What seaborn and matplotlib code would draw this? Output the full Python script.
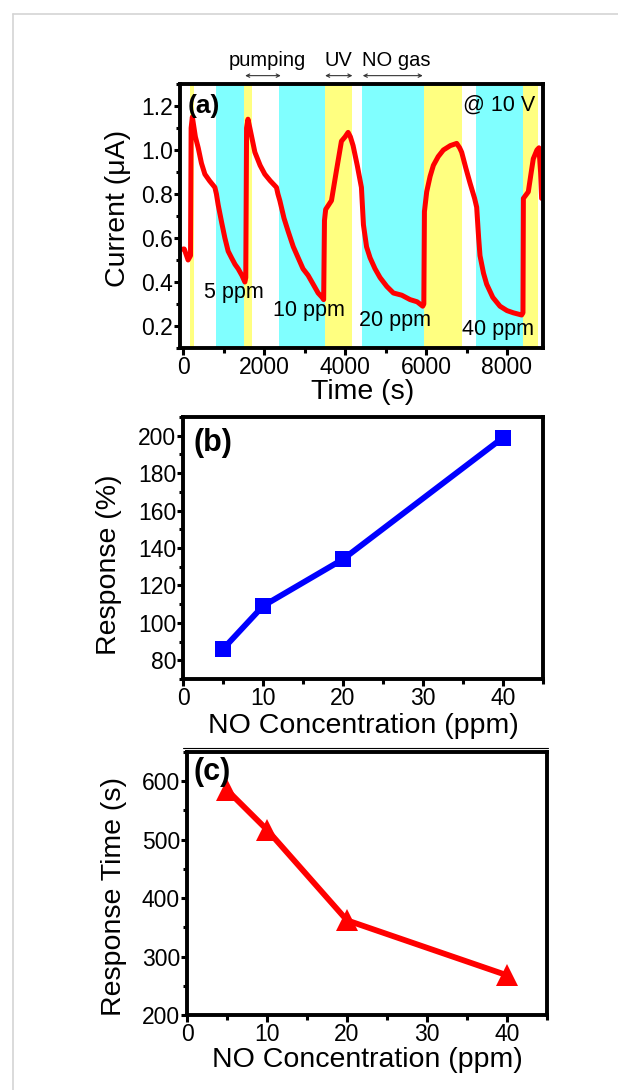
import matplotlib
matplotlib.use("Agg")
import matplotlib.pyplot as plt
from matplotlib.lines import Line2D
from matplotlib.ticker import MultipleLocator
import numpy as np
import pandas as pd
import seaborn as sns

########################
## Data
########################

# (a) current trace
time_s = [0, 25, 120, 180, 195, 225, 300, 370, 450, 535, 650, 782, 820, 864,
          950, 1029, 1110, 1193, 1280, 1358, 1450, 1523, 1545, 1565, 1600, 1646,
          1770, 1900, 2016, 2150, 2304, 2340, 2387, 2490, 2593, 2720, 2840, 2960,
          3086, 3210, 3333, 3432, 3470, 3490, 3520, 3663, 3780, 3909, 4000, 4074,
          4130, 4197, 4300, 4403, 4453, 4530, 4617, 4740, 4864, 5030, 5193, 5400,
          5605, 5780, 5918, 5945, 5960, 6016, 6100, 6181, 6300, 6428, 6600, 6757,
          6830, 6880, 6980, 7086, 7200, 7251, 7300, 7333, 7420, 7498, 7650, 7827,
          8000, 8156, 8362, 8395, 8405, 8527, 8600, 8650, 8740, 8790, 8830, 8856]
current_uA = [0.55, 0.55, 0.50, 0.52, 1.10, 1.15, 1.06, 1.01, 0.94, 0.89, 0.86, 0.83, 0.80, 0.75,
              0.67, 0.60, 0.54, 0.51, 0.48, 0.46, 0.43, 0.40, 0.42, 1.10, 1.14, 1.10,
              0.99, 0.93, 0.89, 0.86, 0.83, 0.80, 0.77, 0.69, 0.63, 0.56, 0.51, 0.46,
              0.43, 0.39, 0.35, 0.33, 0.32, 0.68, 0.73, 0.77, 0.90, 1.04, 1.06, 1.08,
              1.06, 1.02, 0.93, 0.83, 0.66, 0.56, 0.51, 0.46, 0.42, 0.38, 0.35, 0.34,
              0.32, 0.31, 0.29, 0.30, 0.72, 0.81, 0.88, 0.93, 0.97, 1.00, 1.02, 1.03,
              1.01, 0.99, 0.92, 0.85, 0.78, 0.74, 0.60, 0.52, 0.44, 0.39, 0.33, 0.29,
              0.27, 0.26, 0.25, 0.26, 0.78, 0.81, 0.90, 0.96, 1.00, 1.01, 0.90, 0.78]

# shaded phases: UV (yellow) and NO gas (cyan)
band_start = [173, 815, 1506, 2370, 3510, 4420, 5950, 7230, 8400]
band_end = [272, 1506, 1700, 3510, 4170, 5950, 6890, 8400, 8770]
band_kind = ["UV", "NO", "UV", "NO", "UV", "NO", "UV", "NO", "UV"]

conc_labels = ["5 ppm", "10 ppm", "20 ppm", "40 ppm"]
conc_label_t = [1242, 3095, 5235, 7785]
conc_label_i = [0.354, 0.27, 0.224, 0.186]

# (b) and (c)
no_ppm = [5, 10, 20, 40]
response_pct = [86, 109, 134, 199]
response_time_s = [585, 517, 362, 268]

########################
## Style
########################
sns.set_theme(style="ticks")
plt.rcParams["font.family"] = ["Liberation Sans", "DejaVu Sans"]
plt.rcParams["text.color"] = "black"
plt.rcParams["axes.labelcolor"] = "black"
plt.rcParams["axes.linewidth"] = 2.8
for k in ["xtick.major.width", "ytick.major.width", "xtick.minor.width", "ytick.minor.width"]:
    plt.rcParams[k] = 2.2
plt.rcParams["xtick.major.size"] = 5
plt.rcParams["ytick.major.size"] = 4
plt.rcParams["xtick.minor.size"] = 3.5
plt.rcParams["ytick.minor.size"] = 3
plt.rcParams["xtick.major.pad"] = 1
plt.rcParams["ytick.major.pad"] = 1
plt.rcParams["xtick.color"] = "black"
plt.rcParams["ytick.color"] = "black"
plt.rcParams["xtick.labelcolor"] = "black"
plt.rcParams["ytick.labelcolor"] = "black"
plt.rcParams["axes.edgecolor"] = "black"

band_colors = {"UV": "#ffff80", "NO": "#80ffff"}
tick_fs = 16.5
label_fs = 20.5

fig = plt.figure(figsize=(6.18, 10.9), dpi=100)

# light grey frame of the page
fig.add_artist(Line2D([13 / 618, 13 / 618], [0, 1 - 14 / 1090], color="#d4d4d4", lw=1.2))
fig.add_artist(Line2D([13 / 618, 1], [1 - 14 / 1090, 1 - 14 / 1090], color="#d4d4d4", lw=1.2))
# thin separator above panel (c)
fig.add_artist(Line2D([183 / 618, 548 / 618], [1 - 748 / 1090, 1 - 748 / 1090], color="black", lw=0.8))

# ----------------------
# (a) transient current
# ----------------------
ax1 = fig.add_axes([180 / 618, 1 - 348 / 1090, 363 / 618, 264 / 1090])
for s, e, k in zip(band_start, band_end, band_kind):
    ax1.axvspan(s, e, color=band_colors[k], lw=0, zorder=0)

df_a = pd.DataFrame({"t": time_s, "i": current_uA})
sns.lineplot(data=df_a, x="t", y="i", color="red", lw=3.6, ax=ax1, sort=False)

ax1.set_xlim(-80, 8890)
ax1.set_ylim(0.1, 1.3)
ax1.xaxis.set_major_locator(MultipleLocator(2000))
ax1.xaxis.set_minor_locator(MultipleLocator(1000))
ax1.yaxis.set_major_locator(MultipleLocator(0.2))
ax1.yaxis.set_minor_locator(MultipleLocator(0.1))
ax1.set_yticks([0.2, 0.4, 0.6, 0.8, 1.0, 1.2])
ax1.set_yticklabels(["0.2", "0.4", "0.6", "0.8", "1.0", "1.2"])
ax1.tick_params(labelsize=tick_fs, direction="out")
ax1.set_xlabel("Time (s)", fontsize=label_fs)
ax1.set_ylabel("Current (\u03bcA)", fontsize=label_fs)
ax1.xaxis.set_label_coords(0.504, -0.118)
ax1.yaxis.set_label_coords(-0.135, 0.53)

ax1.text(100, 1.2, "(a)", fontsize=19, fontweight="bold", ha="left", va="center")
ax1.text(8700, 1.205, "@ 10 V", fontsize=15.5, ha="right", va="center")
for lab, t, i in zip(conc_labels, conc_label_t, conc_label_i):
    ax1.text(t, i, lab, fontsize=15.5, ha="center", va="center")

# phase annotations above the frame
phase_text = ["pumping", "UV", "NO gas"]
phase_x = [2066, 3830, 5276]
phase_from = [1530, 3506, 4436]
phase_to = [2410, 4180, 5918]
for lab, x, a, b in zip(phase_text, phase_x, phase_from, phase_to):
    ax1.text(x, 1.405, lab, fontsize=14.5, ha="center", va="center", clip_on=False)
    ax1.annotate("", xy=(a, 1.338), xytext=(b, 1.338), annotation_clip=False,
                 arrowprops=dict(arrowstyle="<->", lw=0.8, color="#333333",
                                 shrinkA=0, shrinkB=0, mutation_scale=6))

# ----------------------
# (b) response vs concentration
# ----------------------
ax2 = fig.add_axes([183 / 618, 1 - 679 / 1090, 360 / 618, 262 / 1090])
df_b = pd.DataFrame({"ppm": no_ppm, "resp": response_pct})
sns.lineplot(data=df_b, x="ppm", y="resp", color="#0000ff", lw=4.2, marker="s",
             markersize=11.5, markeredgewidth=0, ax=ax2)
ax2.set_xlim(0, 45)
ax2.set_ylim(70, 210)
ax2.xaxis.set_major_locator(MultipleLocator(10))
ax2.xaxis.set_minor_locator(MultipleLocator(5))
ax2.yaxis.set_major_locator(MultipleLocator(20))
ax2.yaxis.set_minor_locator(MultipleLocator(10))
ax2.set_yticks([80, 100, 120, 140, 160, 180, 200])
ax2.tick_params(labelsize=tick_fs, direction="out")
ax2.set_xlabel("NO Concentration (ppm)", fontsize=label_fs)
ax2.set_ylabel("Response (%)", fontsize=label_fs)
ax2.xaxis.set_label_coords(0.5, -0.13)
ax2.yaxis.set_label_coords(-0.17, 0.435)
ax2.text(0.03, 0.9, "(b)", transform=ax2.transAxes, fontsize=22,
         fontweight="bold", ha="left", va="center")

# ----------------------
# (c) response time vs concentration
# ----------------------
ax3 = fig.add_axes([187 / 618, 1 - 1015 / 1090, 360 / 618, 263 / 1090])
df_c = pd.DataFrame({"ppm": no_ppm, "rt": response_time_s})
sns.lineplot(data=df_c, x="ppm", y="rt", color="red", lw=4.2, marker="^",
             markersize=16, markeredgewidth=0, ax=ax3)
ax3.set_xlim(0, 45)
ax3.set_ylim(200, 650)
ax3.xaxis.set_major_locator(MultipleLocator(10))
ax3.xaxis.set_minor_locator(MultipleLocator(5))
ax3.yaxis.set_major_locator(MultipleLocator(100))
ax3.yaxis.set_minor_locator(MultipleLocator(50))
ax3.set_yticks([200, 300, 400, 500, 600])
ax3.tick_params(labelsize=tick_fs, direction="out")
ax3.set_xlabel("NO Concentration (ppm)", fontsize=label_fs)
ax3.set_ylabel("Response Time (s)", fontsize=label_fs)
ax3.xaxis.set_label_coords(0.5, -0.12)
ax3.yaxis.set_label_coords(-0.167, 0.45)
ax3.text(0.018, 0.925, "(c)", transform=ax3.transAxes, fontsize=22,
         fontweight="bold", ha="left", va="center")

for ax in (ax1, ax2, ax3):
    for sp in ax.spines.values():
        sp.set_visible(True)
        sp.set_color("black")
    ax.tick_params(which="both", left=True, bottom=True, right=False, top=False)

fig.savefig("out.png", dpi=100)
plt.close(fig)
